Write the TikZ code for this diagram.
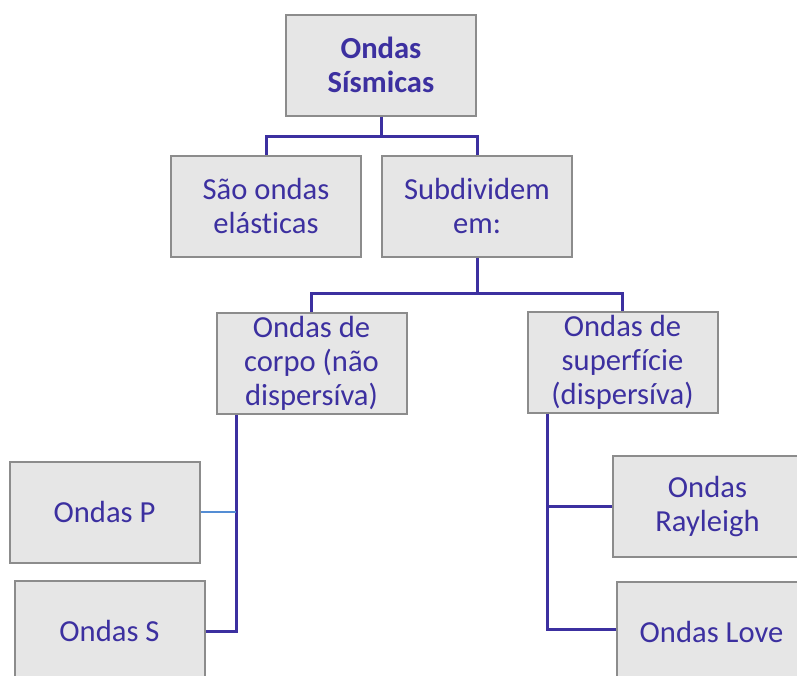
\documentclass[tikz,border=0pt]{standalone}
\usepackage{fontspec}
\setmainfont{Carlito}[Ligatures=NoCommon]
\usetikzlibrary{calc}

\definecolor{boxfill}{RGB}{230,230,230}
\definecolor{boxline}{RGB}{140,140,140}
\definecolor{wavetext}{RGB}{60,48,160}
\definecolor{paleblue}{RGB}{84,141,212}

\tikzset{
    wavebox/.style={draw=boxline, line width=1pt, fill=boxfill, text=wavetext,
        minimum width=95pt, minimum height=50.5pt, inner sep=0pt, align=center,
        font=\fontsize{15.3}{17}\selectfont},
    link/.style={draw=wavetext, line width=1.5pt},
    plink/.style={draw=paleblue, line width=1.2pt}
}

\begin{document}
\begin{tikzpicture}[x=0.5pt, y=-0.5pt]

        % Frame (pixel grid of the reference)
        \path[use as bounding box, clip] (0,0) rectangle (797,675);

        % Top level
        \node[wavebox, font=\fontsize{15.3}{17}\selectfont\bfseries] (sismicas) at (381,65) {Ondas\\Sísmicas};

        % Second level
        \node[wavebox] (elasticas) at (266,206) {São ondas\\elásticas};
        \node[wavebox] (subdividem) at (477,206) {Subdividem\\em:};

        % Third level
        \node[wavebox] (corpo) at (311.5,363.5) {Ondas de\\corpo (não\\dispersíva)};
        \node[wavebox] (superficie) at (622.5,362) {Ondas de\\superfície\\(dispersíva)};

        % Body waves
        \node[wavebox] (ondasP) at (104.5,512) {Ondas P};
        \node[wavebox] (ondasS) at (109.5,631) {Ondas S};

        % Surface waves
        \node[wavebox] (rayleigh) at (707.5,506) {Ondas\\Rayleigh};
        \node[wavebox] (love) at (711.5,632) {Ondas Love};

        % Joints and trunks
        \coordinate (topjoint) at (381,136);
        \coordinate (midjoint) at (477,293);
        \coordinate (ltrunk) at (236,631);
        \coordinate (rtrunk) at (547,629);

        % Connectors
        \draw[link] (sismicas.south) -- (topjoint);
        \draw[link] (elasticas.north) |- (topjoint) -| (subdividem.north);
        \draw[link] (subdividem.south) -- (midjoint);
        \draw[link] (corpo.north) |- (midjoint) -| (superficie.north);

        \draw[link] (corpo.south -| ltrunk) -- (ltrunk) -- (ondasS.east |- ltrunk);
        \draw[plink] (ondasP.east) -- (ondasP.east -| ltrunk);

        \draw[link] (superficie.south -| rtrunk) -- (rtrunk) -- (love.west |- rtrunk);
        \draw[link] (rayleigh.west) -- (rayleigh.west -| rtrunk);

\end{tikzpicture}
\end{document}
